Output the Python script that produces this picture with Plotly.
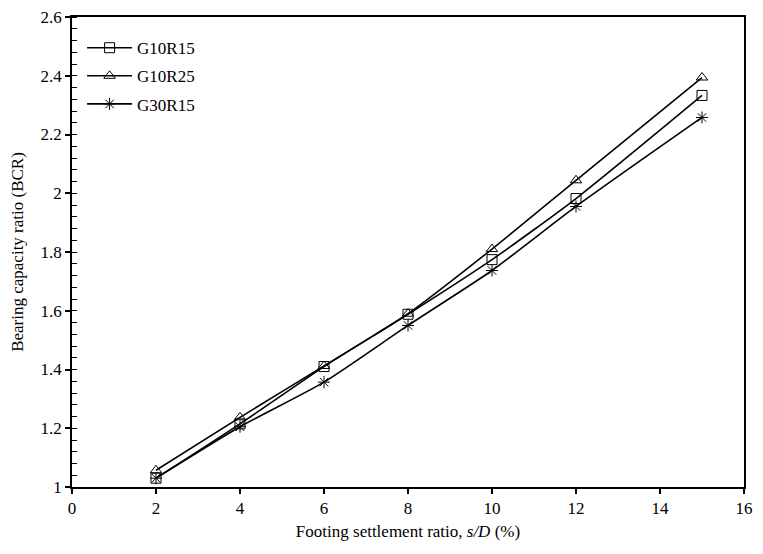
import plotly.graph_objects as go

x_vals = [2, 4, 6, 8, 10, 12, 15]
g10r15 = [1.03, 1.215, 1.41, 1.588, 1.774, 1.982, 2.333]
g10r25 = [1.057, 1.237, 1.412, 1.59, 1.81, 2.044, 2.394]
g30r15 = [1.03, 1.205, 1.357, 1.55, 1.737, 1.955, 2.258]
y_ticks = [1, 1.2, 1.4, 1.6, 1.8, 2, 2.2, 2.4, 2.6]
y_tick_text = ["1", "1.2", "1.4", "1.6", "1.8", "2", "2.2", "2.4", "2.6"]

series = [
    ("G10R15", g10r15, "square-open"),
    ("G10R25", g10r25, "triangle-up-open"),
    ("G30R15", g30r15, "asterisk-open"),
]

fig = go.Figure()
for name, vals, sym in series:
    fig.add_trace(go.Scatter(
        x=x_vals, y=vals, name=name, mode="lines+markers", legendgroup=name,
        line=dict(color="black", width=1.6, shape="spline", smoothing=0.6),
        marker=dict(symbol=sym, size=10, color="black", line=dict(width=1, color="black")),
    ))

font = dict(family="Liberation Serif, Times New Roman, serif", size=17, color="black")

# page body has an 8px margin, so the figure is sized to fit inside the 763x554 window
fig.update_layout(
    width=747, height=538,
    margin=dict(l=64, r=11, t=9, b=59, autoexpand=False),
    paper_bgcolor="white", plot_bgcolor="white",
    font=font,
    showlegend=True,
    legend=dict(x=0.015, y=0.972, xanchor="left", yanchor="top",
                bgcolor="rgba(0,0,0,0)", font=font, itemwidth=45,
                tracegroupgap=3),
    xaxis=dict(
        range=[0, 16], tickmode="linear", tick0=0, dtick=2,
        showline=True, linecolor="black", linewidth=1.5, mirror=True,
        ticks="outside", ticklen=5, tickcolor="black", tickwidth=1.5,
        showgrid=False, zeroline=False, automargin=False,
        ticklabeloverflow="allow",
        title=dict(text="Footing settlement ratio, <i>s/D</i> (%)", font=font, standoff=8),
        tickfont=font,
    ),
    yaxis=dict(
        range=[1, 2.6], tickmode="array", tickvals=y_ticks, ticktext=y_tick_text,
        showline=True, linecolor="black", linewidth=1.5, mirror=True,
        ticks="outside", ticklen=5, tickcolor="black", tickwidth=1.5,
        minor=dict(ticks="inside", ticklen=5, dtick=0.04, tick0=1,
                   tickcolor="black", tickwidth=1.2, showgrid=False),
        showgrid=False, zeroline=False, automargin=False,
        ticklabeloverflow="allow",
        title=dict(text="Bearing capacity ratio (BCR)", font=font, standoff=14),
        tickfont=font,
    ),
)

fig.write_html("out.html")
